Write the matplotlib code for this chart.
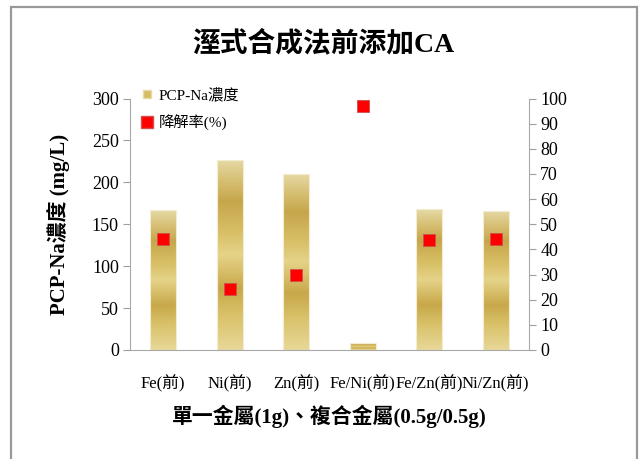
import numpy as np
import matplotlib
matplotlib.use("Agg")
import matplotlib.pyplot as plt
from matplotlib.colors import LinearSegmentedColormap
from matplotlib.patches import Rectangle
from matplotlib.lines import Line2D

plt.rcParams["font.family"] = ["Liberation Serif", "Noto Sans CJK TC", "DejaVu Sans"]

categories = ["Fe(前)", "Ni(前)", "Zn(前)", "Fe/Ni(前)", "Fe/Zn(前)", "Ni/Zn(前)"]
pcp_conc = [167, 227, 210, 8, 168, 166]        # mg/L
degradation = [44.1, 24.1, 30.0, 97.0, 43.6, 44.1]  # %

gold = LinearSegmentedColormap.from_list(
    "gold", [(0.0, "#e8d898"), (0.18, "#d9c26a"), (0.32, "#c8a84a"),
             (0.5, "#e5d388"), (0.62, "#d8bf66"), (0.78, "#c6a64b"),
             (0.9, "#d8c278"), (1.0, "#e6d9a6")])

fig = plt.figure(figsize=(6.41, 4.59), dpi=100)
ax = fig.add_axes([0.2028, 0.2375, 0.6225, 0.5479])
ax2 = ax.twinx()

x = np.arange(len(categories))
bars = ax.bar(x, pcp_conc, width=0.39, color="none", edgecolor="#f3ecd0", lw=0.8, zorder=2)
grad = np.linspace(0, 1, 256).reshape(-1, 1)
for b in bars:
    x0, w, h = b.get_x(), b.get_width(), b.get_height()
    im = ax.imshow(grad, cmap=gold, origin="lower", aspect="auto",
                   extent=[x0, x0 + w, 0, h], zorder=1)
    im.set_clip_path(b)

ax.set_xlim(-0.5, len(categories) - 0.5)
ax.set_ylim(0, 300)
ax.set_yticks(range(0, 301, 50))
ax.set_xticks(x)
ax.set_xticklabels(categories, fontsize=12)
ax.tick_params(axis="x", length=0, pad=18)
ax.tick_params(axis="y", labelsize=13, color="#a0a0a0", length=5, pad=3)

ax2.scatter(x, degradation, marker="s", s=80, color="#ff0000",
            edgecolor="#d05050", lw=0.6, zorder=3)
ax2.set_ylim(0, 100)
ax2.set_yticks(range(0, 101, 10))
ax2.tick_params(axis="y", labelsize=13, color="#a0a0a0", length=5, pad=3)

for a in (ax, ax2):
    a.spines["top"].set_visible(False)
    for s in ("left", "right", "bottom"):
        a.spines[s].set_color("#a8a8a8")
ax.spines["right"].set_visible(False)
ax2.spines["left"].set_visible(False)
ax2.spines["bottom"].set_visible(False)

ax.set_ylabel("PCP-Na濃度 (mg/L)", fontsize=15, fontweight="bold", labelpad=16)
ax.set_xlabel("單一金屬(1g)、複合金屬(0.5g/0.5g)", fontsize=15, fontweight="bold", labelpad=9)
fig.text(0.505, 0.905, "溼式合成法前添加CA", ha="center", va="center",
         fontsize=20, fontweight="bold")

handles = [Line2D([], [], ls="none", marker="s", ms=6, mfc="#d6bc62", mec="#e8dca8"),
           Line2D([], [], ls="none", marker="s", ms=8, mfc="#ff0000", mec="#d05050")]
ax.legend(handles, ["PCP-Na濃度", "降解率(%)"], loc="upper left",
          bbox_to_anchor=(0.0, 1.08), frameon=False, fontsize=11,
          handletextpad=0.3, handlelength=1.0, labelspacing=0.8, borderaxespad=0.2)

fig.patches.append(Rectangle((11 / 641, -0.05), 626 / 641, 1.05 - 7 / 459,
                             transform=fig.transFigure, fill=False,
                             edgecolor="#999999", lw=1.6))

fig.savefig("out.png", dpi=100)
